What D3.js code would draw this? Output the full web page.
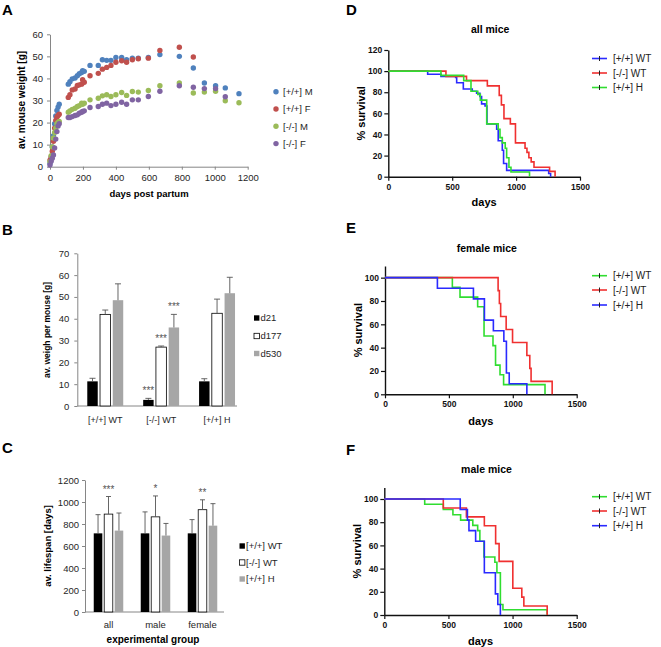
<!DOCTYPE html>
<html>
<head>
<meta charset="utf-8">
<script src="https://cdn.jsdelivr.net/npm/d3@7"></script>
<style>
body { margin: 0; background: #fff; }
svg { display: block; font-family: "Liberation Sans", Arial, sans-serif; }
</style>
</head>
<body>
<svg id="fig" width="661" height="647"></svg>
<script>
// ---- A: average weight over time
const aDays = [0,7,14,21,28,35,42,49,56,111,121,135,152,166,178,192,198,208,243,293,318,344,370,400,435,465,500,536,597,667,785,870,937,1005,1064,1147];
const aWtM = [1.5,4,9,14,19.5,23,25.5,27,28.3,37.4,38.5,39.8,40.2,41.2,42.1,42.7,43.5,43.2,45.9,45.9,48.5,48.2,48.2,49.5,49.5,48.5,49.2,49.2,49.5,50.8,50.0,44.7,37.9,36.7,35.7,33.1];
const aWtF = [3,4.5,7,11.5,17.5,21,22.5,23.2,23.8,31.4,32.6,34.8,35.2,36.8,37.1,37.4,39.4,38.3,41.2,42.3,44.2,45,45.9,47.3,48,47.3,48.5,48.9,49.2,52.7,54.1,49.7,null,null,null,null];
const aKoM = [2.3,5,9,13,15.5,17.5,19.5,20,20.5,24.7,25.3,26,26.5,27.3,27.7,28.8,28.3,28.8,30.3,31,32.1,32.6,31.8,32.6,33.6,32.3,34.1,33.8,34.5,36.7,37.9,33.4,33.8,34.2,29.9,29.0];
const aKoF = [0.8,2.5,3.8,5.3,8.5,12.5,15.9,18.5,19.5,22.3,22.3,22.7,23.2,23.5,24.2,24.7,25,25.3,26.8,27.3,28.3,28.8,27.7,28.3,29.2,28.3,30.3,30.3,31.8,34.2,36.7,36.0,35.4,35.4,31.7,null];
const aNames = ["[+/+] M","[+/+] F","[-/-] M","[-/-] F"];

// ---- B: weight per mouse at three ages
const bGroups = ["[+/+] WT","[-/-] WT","[+/+] H"];
const bAges = ["d21","d177","d530"];
const bD21 = [11.3,2.8,11.3], bD21Sd = [1.4,0.7,1.2], bD21Sig = ["","***",""];
const bD177 = [42,27,42.5], bD177Sd = [2,0.5,6.5], bD177Sig = ["","***",""];
const bD530 = [48.5,36,51.7], bD530Sd = [7.5,6,7.3], bD530Sig = ["","***",""];

// ---- C: lifespan
const cGroups = ["all","male","female"];
const cGeno = ["[+/+] WT","[-/-] WT","[+/+] H"];
const cWt = [715,715,715], cWtSd = [170,195,125];
const cKo = [890,865,930], cKoSd = [160,190,90], cKoSig = ["***","*","**"];
const cH = [740,695,785], cHSd = [160,110,200];

// ---- D-F: survival, [day, % surviving after event]
const dWt = [[0,100],[308,97],[412,95],[527,94],[535,89],[587,83],[657,81],[691,79],[717,76],[730,69],[757,67],[772,50],[848,45],[860,34],[892,25],[902,12.5],[926,6],[1255,3],[1270,0]];
const dKo = [[0,100],[451,95],[612,91],[775,86],[868,77],[885,68],[905,55],[955,50],[995,32],[1070,27],[1085,23],[1100,18],[1118,14],[1140,9],[1262,5],[1305,0]];
const dH = [[0,100],[412,96],[590,91],[647,81],[700,78],[720,72.5],[770,50],[860,45],[874,37],[892,32],[915,27],[926,18],[944,9],[960,4.5],[1105,0]];
const eWt = [[0,100],[527,91.7],[587,83.3],[725,75],[775,50],[845,41.7],[865,25],[900,16.7],[928,8.3],[1252,0]];
const eKo = [[0,100],[885,88.9],[895,77.8],[905,66.7],[948,55.6],[998,44.4],[1110,33.3],[1133,22.2],[1143,11.1],[1308,0]];
const eH = [[0,100],[410,90.9],[692,81.8],[778,63.6],[848,54.5],[930,45.5],[950,18.2],[972,9.1],[1110,0]];
const fWt = [[0,100],[315,95.5],[460,91],[535,86.4],[595,81.8],[690,77.3],[728,72.7],[745,63.6],[777,50],[862,45.5],[878,36.4],[905,9.1],[925,4.5],[1270,0]];
const fKo = [[0,100],[460,92.3],[640,84.6],[780,76.9],[868,61.5],[895,46.2],[1002,23.1],[1072,15.4],[1088,7.7],[1270,0]];
const fH = [[0,100],[592,90.9],[648,81.8],[660,72.7],[712,63.6],[780,36.4],[866,18.2],[885,9.1],[905,0]];

const BLUE = "#2a2aff", RED = "#f03030", GREEN = "#30dd30";

const svg = d3.select("#fig");
svg.append("rect").attr("width", 661).attr("height", 647).attr("fill", "#fff");

function panelLabel(t, x, y) {
    svg.append("text").attr("x", x).attr("y", y)
        .attr("font-size", 15).attr("font-weight", "bold").text(t);
}

function excel(g) {
    g.select(".domain").attr("stroke", "#868686");
    g.selectAll(".tick line").attr("stroke", "#868686");
    g.selectAll(".tick text").attr("fill", "#262626").attr("font-size", 9.5)
        .attr("font-family", "Liberation Sans, Arial, sans-serif");
}

function prism(g) {
    g.select(".domain").attr("stroke", "#111").attr("stroke-width", 1.4);
    g.selectAll(".tick line").attr("stroke", "#111").attr("stroke-width", 1.2);
    g.selectAll(".tick text").attr("fill", "#111").attr("font-size", 8.5).attr("font-weight", "bold")
        .attr("font-family", "Liberation Sans, Arial, sans-serif");
}

function yTitle(x, y, t, size) {
    svg.append("text").attr("transform", `translate(${x},${y}) rotate(-90)`)
        .attr("text-anchor", "middle").attr("dominant-baseline", "central")
        .attr("font-size", size).attr("font-weight", "bold").text(t);
}

function xTitle(x, y, t, size) {
    svg.append("text").attr("x", x).attr("y", y).attr("text-anchor", "middle")
        .attr("font-size", size).attr("font-weight", "bold").text(t);
}

// ================= A =================
panelLabel("A", 2, 15);
const ax = d3.scaleLinear().domain([0, 1200]).range([50, 247.7]);
const ay = d3.scaleLinear().domain([0, 60]).range([166.7, 34.3]);
svg.append("g").attr("transform", "translate(0,166.7)")
    .call(d3.axisBottom(ax).tickValues(d3.range(0, 1201, 200)).tickFormat(d3.format("d")).tickSize(3).tickPadding(5).tickSizeOuter(0))
    .call(excel);
svg.append("g").attr("transform", "translate(50,0)")
    .call(d3.axisLeft(ay).tickValues(d3.range(0, 61, 10)).tickSize(3).tickPadding(4).tickSizeOuter(0))
    .call(excel);

const aColor = d3.scaleOrdinal().domain(aNames).range(["#4f81bd", "#c0504d", "#9bbb59", "#8064a2"]);
[aWtM, aWtF, aKoM, aKoF].forEach((vals, k) => {
    const pts = aDays.map((d, i) => [d, vals[i]]).filter(p => p[1] != null);
    svg.append("g").selectAll("circle").data(pts).enter().append("circle")
        .attr("cx", d => ax(d[0])).attr("cy", d => ay(d[1])).attr("r", 2.7)
        .attr("fill", aColor(aNames[k]));
});
yTitle(21, 100, "av.  mouse weight [g]", 10);
xTitle(149, 196.5, "days post partum", 9.5);

const aLeg = svg.append("g").selectAll("g").data(aNames).enter().append("g")
    .attr("transform", (d, i) => `translate(276,${91.7 + i * 17.3})`);
aLeg.append("circle").attr("r", 2.7).attr("fill", d => aColor(d));
aLeg.append("text").attr("x", 7).attr("dy", "0.35em").attr("font-size", 9.5).attr("fill", "#262626").text(d => d);

// ================= grouped bar helper =================
function bars(o) {
    const x0 = d3.scaleBand().domain(o.groups).range(o.xr).paddingInner(o.pIn).paddingOuter(o.pIn / 2);
    const x1 = d3.scaleBand().domain(o.keys).range([0, x0.bandwidth()]).paddingInner(0.18);
    const y = d3.scaleLinear().domain(o.yd).range(o.yr);
    const base = o.yr[0];
    svg.append("g").attr("transform", `translate(${o.xr[0]},0)`)
        .call(d3.axisLeft(y).tickValues(o.yt).tickFormat(d3.format("d")).tickSize(3).tickPadding(o.yPad).tickSizeOuter(0))
        .call(excel);
    svg.append("line").attr("x1", o.xr[0]).attr("x2", o.xEnd).attr("y1", base).attr("y2", base)
        .attr("stroke", "#868686");
    svg.append("g").selectAll("text").data(o.groups).enter().append("text")
        .attr("x", d => x0(d) + x0.bandwidth() / 2).attr("y", base + o.catDy)
        .attr("text-anchor", "middle").attr("font-size", o.catSize).attr("fill", "#262626").text(d => d);
    o.series.forEach((s, k) => {
        const key = o.keys[k];
        const g = svg.append("g");
        const rows = o.groups.map((grp, i) => ({ grp, v: s.vals[i], sd: s.sd[i], sig: s.sig ? s.sig[i] : "" }));
        g.selectAll("rect").data(rows).enter().append("rect")
            .attr("x", d => x0(d.grp) + x1(key)).attr("width", x1.bandwidth())
            .attr("y", d => y(d.v)).attr("height", d => base - y(d.v))
            .attr("fill", s.fill).attr("stroke", s.stroke || "none").attr("stroke-width", 0.8);
        const cx = d => x0(d.grp) + x1(key) + x1.bandwidth() / 2;
        g.selectAll(".eb").data(rows).enter().append("path")
            .attr("d", d => `M${cx(d)},${y(d.v)}V${y(d.v + d.sd)}M${cx(d) - o.cap},${y(d.v + d.sd)}H${cx(d) + o.cap}`)
            .attr("stroke", "#555").attr("stroke-width", 0.9).attr("fill", "none");
        g.selectAll(".sig").data(rows.filter(d => d.sig)).enter().append("text")
            .attr("x", cx).attr("y", d => y(d.v + d.sd) - 4)
            .attr("text-anchor", "middle").attr("font-size", 10).attr("fill", "#555").text(d => d.sig);
    });
    const leg = svg.append("g").selectAll("g").data(o.keys).enter().append("g")
        .attr("transform", (d, i) => `translate(${o.legX},${o.legY[i]})`);
    leg.append("rect").attr("x", 0).attr("y", -2.7).attr("width", 5.4).attr("height", 5.4)
        .attr("fill", (d, i) => o.series[i].fill).attr("stroke", (d, i) => o.series[i].stroke || "none").attr("stroke-width", 0.8);
    leg.append("text").attr("x", 6.5).attr("dy", "0.35em").attr("font-size", 9.5).attr("fill", "#262626").text(d => d);
}

// ================= B =================
panelLabel("B", 2, 235);
bars({
    groups: bGroups, keys: bAges, xr: [77.3, 245], xEnd: 237, pIn: 0.357,
    yd: [0, 70], yr: [406, 253.3], yt: d3.range(0, 71, 10), yPad: 5,
    catDy: 17, catSize: 9, cap: 3,
    series: [
        { vals: bD21, sd: bD21Sd, sig: bD21Sig, fill: "#000" },
        { vals: bD177, sd: bD177Sd, sig: bD177Sig, fill: "#fff", stroke: "#000" },
        { vals: bD530, sd: bD530Sd, sig: bD530Sig, fill: "#a6a6a6" }
    ],
    legX: 254, legY: [318, 336, 353.5]
});
yTitle(46.7, 330, "av. weigh per mouse [g]", 8.5);

// ================= C =================
panelLabel("C", 2, 453);
bars({
    groups: cGroups, keys: cGeno, xr: [85, 226], xEnd: 224, pIn: 0.372,
    yd: [0, 1200], yr: [612, 480], yt: d3.range(0, 1201, 200), yPad: 3,
    catDy: 16, catSize: 9.5, cap: 2.5,
    series: [
        { vals: cWt, sd: cWtSd, fill: "#000" },
        { vals: cKo, sd: cKoSd, sig: cKoSig, fill: "#fff", stroke: "#000" },
        { vals: cH, sd: cHSd, fill: "#a6a6a6" }
    ],
    legX: 239.5, legY: [546, 562.5, 579]
});
yTitle(47, 546, "av. lifespan [days]", 9.5);
xTitle(153, 642.5, "experimental group", 10);

// ================= survival helper =================
function survival(o) {
    panelLabel(o.label, 346, o.labelY);
    const x = d3.scaleLinear().domain([0, 1500]).range([o.x0, o.x1]);
    const y = d3.scaleLinear().domain([0, o.yMax]).range([o.y0, o.y0 - o.yLen]);
    svg.append("g").attr("transform", `translate(0,${o.y0})`)
        .call(d3.axisBottom(x).tickValues([0, 500, 1000, 1500]).tickFormat(d3.format("d")).tickSize(4).tickPadding(3).tickSizeOuter(0))
        .call(prism);
    svg.append("g").attr("transform", `translate(${o.x0},0)`)
        .call(d3.axisLeft(y).tickValues(d3.range(0, o.yTop + 1, 20)).tickSize(4).tickPadding(2).tickSizeOuter(0))
        .call(prism);
    const line = d3.line().x(d => x(d[0])).y(d => y(d[1])).curve(d3.curveStepAfter);
    o.curves.forEach(c => {
        svg.append("path").datum(c.data).attr("d", line)
            .attr("fill", "none").attr("stroke", c.color).attr("stroke-width", 1.6);
    });
    xTitle((o.x0 + o.x1) / 2 + 6, o.titleY, o.title, 10.5);
    xTitle((o.x0 + o.x1) / 2, o.daysY, "days", 11);
    yTitle(o.x0 - 27.5, o.y0 - o.yLen / 2, "% survival", 11);
    const leg = svg.append("g").selectAll("g").data(o.curves).enter().append("g")
        .attr("transform", (d, i) => `translate(592,${o.legY[i]})`);
    leg.append("line").attr("x1", 0).attr("x2", 15).attr("stroke", d => d.color).attr("stroke-width", 1.6);
    leg.append("line").attr("x1", 7.5).attr("x2", 7.5).attr("y1", -2.5).attr("y2", 2.5).attr("stroke", "#222").attr("stroke-width", 1);
    leg.append("text").attr("x", 21).attr("dy", "0.35em").attr("font-size", 10).attr("fill", "#222").text(d => d.name);
}

survival({
    label: "D", labelY: 15, title: "all mice", titleY: 33,
    x0: 388.3, x1: 580, y0: 176.7, yLen: 126.7, yMax: 120, yTop: 120, daysY: 206,
    curves: [
        { name: "[+/+] WT", data: dWt, color: BLUE },
        { name: "[-/-] WT", data: dKo, color: RED },
        { name: "[+/+] H", data: dH, color: GREEN }
    ],
    legY: [58.5, 73, 87.5]
});

survival({
    label: "E", labelY: 233, title: "female mice", titleY: 252,
    x0: 385, x1: 576.7, y0: 394.3, yLen: 128.3, yMax: 110, yTop: 100, daysY: 424.5,
    curves: [
        { name: "[+/+] WT", data: eWt, color: GREEN },
        { name: "[-/-] WT", data: eKo, color: RED },
        { name: "[+/+] H", data: eH, color: BLUE }
    ],
    legY: [275.7, 290, 305]
});

survival({
    label: "F", labelY: 455, title: "male mice", titleY: 473,
    x0: 384.3, x1: 576.7, y0: 615, yLen: 127.6, yMax: 110, yTop: 100, daysY: 645,
    curves: [
        { name: "[+/+] WT", data: fWt, color: GREEN },
        { name: "[-/-] WT", data: fKo, color: RED },
        { name: "[+/+] H", data: fH, color: BLUE }
    ],
    legY: [496.7, 511, 525.7]
});
</script>
</body>
</html>
